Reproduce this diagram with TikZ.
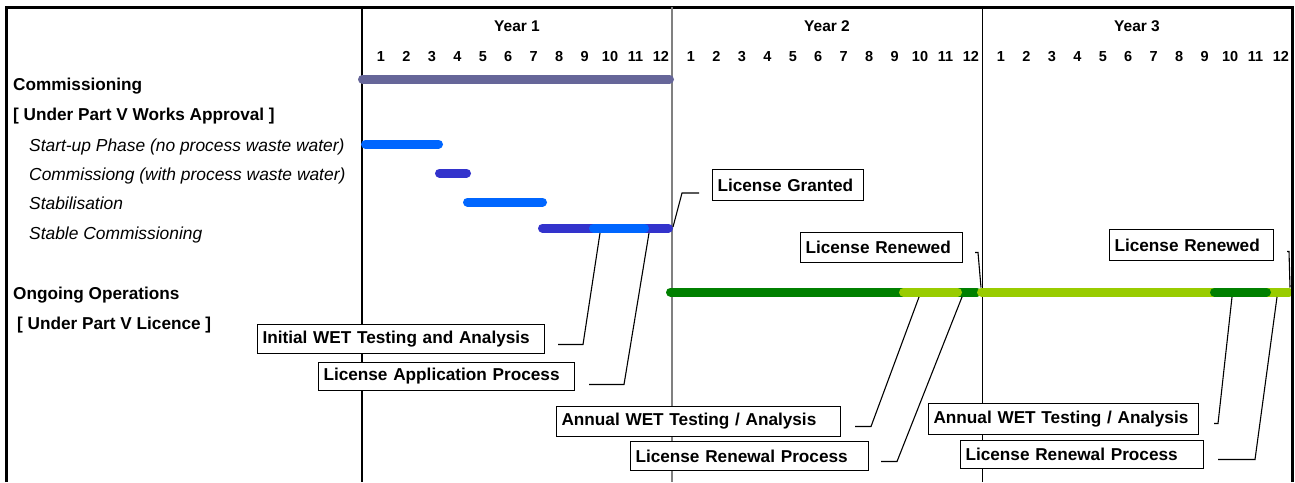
\documentclass[tikz,border=0pt]{standalone}
\usepackage{fontspec}
\setmainfont{Liberation Sans}
\definecolor{cgray}{HTML}{666699}
\definecolor{cblue}{HTML}{0066FF}
\definecolor{cdblue}{HTML}{3333CC}
\definecolor{cgreen}{HTML}{008000}
\definecolor{clgreen}{HTML}{99CC00}
\definecolor{divgray}{HTML}{808080}
\begin{document}
\begin{tikzpicture}[x=1pt,y=-1pt,
  lbl/.style={font=\fontsize{17.2}{19}\selectfont\bfseries, anchor=base west, inner sep=0pt},
  ilbl/.style={font=\fontsize{17.4}{19}\selectfont\itshape, anchor=base west, inner sep=0pt},
  yr/.style={font=\fontsize{15.5}{17}\selectfont\bfseries, anchor=base, inner sep=0pt},
  mo/.style={font=\fontsize{14.5}{16}\selectfont\bfseries, anchor=base, inner sep=0pt},
  bar/.style={line width=9pt, line cap=round},
  callout/.style={draw, fill=white, line width=1pt, anchor=north west, inner xsep=5pt, inner ysep=0pt, align=left, font=\fontsize{17.2}{19}\selectfont\bfseries},
  leader/.style={draw, line width=1.1pt}
]
\useasboundingbox (0,0) rectangle (1295,482);
% frame
\draw[line width=3pt] (6,482) -- (6,7) -- (1292,7) -- (1292,482);
% year dividers
\draw[line width=2.5pt] (362,7) -- (362,482);
\draw[divgray, line width=1.5pt] (672,7) -- (672,482);
\draw[line width=1pt] (982,7) -- (982,482);
% header
\foreach \y [count=\k] in {362,672,982} {
  \node[yr] (year\k) at (\y+155,31.5) {Year \k};
  \foreach \m in {1,...,12}
    \node[mo] (m\k-\m) at ({\y+19+25.45*(\m-1)},61.2) {\m};
}
% row labels
\node[lbl] (lcomm) at (13,90) {Commissioning};
\node[lbl] (lworks) at (13,120) {[ Under Part V Works Approval ]};
\node[ilbl] (lstart) at (29,151) {Start-up Phase (no process waste water)};
\node[ilbl] (lcwith) at (29,180) {Commissiong (with process waste water)};
\node[ilbl] (lstab) at (29,209.5) {Stabilisation};
\node[ilbl] (lstable) at (29,239) {Stable Commissioning};
\node[lbl] (longo) at (13,299) {Ongoing Operations};
\node[lbl] (llic) at (17,329) {[ Under Part V Licence ]};
% bars
\draw[bar, cgray] (362.5,79) -- (669.5,79);
\draw[bar, cblue] (365.5,144) -- (438.5,144);
\draw[bar, cdblue] (439.5,173) -- (466.5,173);
\draw[bar, cblue] (467.5,202) -- (542.5,202);
\draw[bar, cdblue] (542.5,228) -- (668.5,228);
\draw[bar, cblue] (593.5,228) -- (644.5,228);
\draw[bar, cgreen] (670.5,292) -- (977,292);
\draw[bar, clgreen] (903.5,292) -- (957.5,292);
\draw[bar, clgreen] (981.5,292) -- (1289,292);
\draw[bar, cgreen] (1214.5,292) -- (1266.5,292);
\draw[line width=3pt] (1292,280) -- (1292,305);
% leader anchor points
\coordinate (pGrant) at (673,227);
\coordinate (pInit) at (600,233);
\coordinate (pApp) at (649,233);
\coordinate (pRen1) at (981,287.5);
\coordinate (pRen2) at (1290,287.5);
\coordinate (pAw1) at (919,297);
\coordinate (pRp1) at (962,297);
\coordinate (pAw2) at (1232,297);
\coordinate (pRp2) at (1277,297);
% callout boxes
\node[callout, text width=141pt, minimum height=31pt] (cGrant) at (712,169) {License Granted};
\node[callout, text width=152pt, minimum height=30pt] (cRen1) at (800,232) {License Renewed};
\node[callout, text width=154pt, minimum height=31pt] (cRen2) at (1109,229) {License Renewed};
\node[callout, text width=277pt, minimum height=29pt] (cInit) at (257,324) {Initial WET Testing and Analysis};
\node[callout, text width=246pt, minimum height=28pt] (cApp) at (318,362) {License Application Process};
\node[callout, text width=274pt, minimum height=30pt] (cAw1) at (556,406) {Annual WET Testing / Analysis};
\node[callout, text width=228pt, minimum height=29pt] (cRp1) at (630,441) {License Renewal Process};
\node[callout, text width=260pt, minimum height=31pt] (cAw2) at (928,403) {Annual WET Testing / Analysis};
\node[callout, text width=233pt, minimum height=28pt] (cRp2) at (960,440) {License Renewal Process};
% leaders
\draw[leader] (cGrant.west) ++(-13,8) -- ++(-17,0) -- (pGrant);
\draw[leader] (cRen1.east) ++(12,5) -- ++(3,0) -- (pRen1);
\draw[leader] (cRen2.east) ++(13,6.5) -- ++(2,0) -- (pRen2);
\draw[leader] (cInit.east) ++(13,5.5) -- ++(25,0) -- (pInit);
\draw[leader] (cApp.east) ++(14,8) -- ++(35,0) -- (pApp);
\draw[leader] (cAw1.east) ++(14,5) -- ++(16,0) -- (pAw1);
\draw[leader] (cRp1.east) ++(12,5.5) -- ++(16,0) -- (pRp1);
\draw[leader] (cAw2.east) ++(15,4.5) -- ++(4,0) -- (pAw2);
\draw[leader] (cRp2.east) ++(14,5) -- ++(37,0) -- (pRp2);
\end{tikzpicture}
\end{document}
